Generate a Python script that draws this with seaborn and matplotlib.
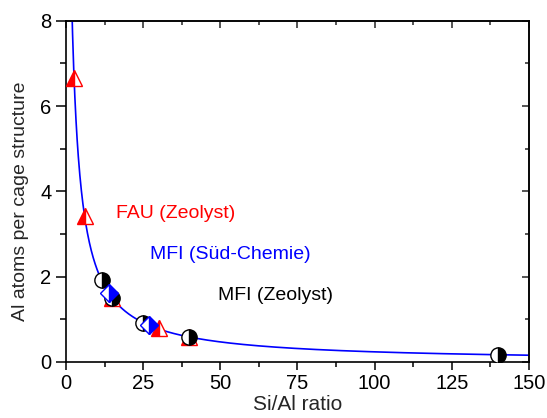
import numpy as np
import pandas as pd
import matplotlib
matplotlib.use("Agg")
import matplotlib.pyplot as plt
from matplotlib.ticker import MultipleLocator
import seaborn as sns

# Measured samples: Si/Al ratio and Al atoms per cage
fau_si_al = [2.6, 6.0, 15.0, 30.0, 40.0]
fau_al = [6.67, 3.43, 1.50, 0.79, 0.59]

mfi_sc_si_al = [14.0, 27.0]
mfi_sc_al = [1.62, 0.86]

mfi_zeo_si_al = [11.5, 15.0, 25.0, 40.0, 140.0]
mfi_zeo_al = [1.92, 1.50, 0.92, 0.59, 0.17]

# Reference curve: 24 T atoms per cage shared between Si and Al
T_ATOMS_PER_CAGE = 24

series_labels = ["FAU (Zeolyst)", "MFI (Süd-Chemie)", "MFI (Zeolyst)"]

sns.set_theme(style="ticks")
plt.rcParams["font.family"] = ["Liberation Sans", "DejaVu Sans"]

fig = plt.figure(figsize=(5.47, 4.18), dpi=100)
ax = fig.add_axes([0.1207, 0.134, 0.8463, 0.8162])

ratio = np.linspace(1.5, 150, 1200)
curve = pd.DataFrame({"ratio": ratio, "al": T_ATOMS_PER_CAGE / (1 + ratio)})
sns.lineplot(data=curve, x="ratio", y="al", color="#0000ff", lw=1.2, ax=ax, zorder=2)

ms = 11
sns.lineplot(x=fau_si_al, y=fau_al, ax=ax, linestyle="", marker="^", markersize=ms,
             fillstyle="left", markerfacecolor="#ff0000", markerfacecoloralt="white",
             markeredgecolor="#ff0000", markeredgewidth=1.0, zorder=3)
sns.lineplot(x=mfi_zeo_si_al, y=mfi_zeo_al, ax=ax, linestyle="", marker="o", markersize=ms,
             fillstyle="right", markerfacecolor="black", markerfacecoloralt="white",
             markeredgecolor="black", markeredgewidth=1.0, zorder=4)
sns.lineplot(x=mfi_sc_si_al, y=mfi_sc_al, ax=ax, linestyle="", marker="D", markersize=9.5,
             fillstyle="right", markerfacecolor="#0000ff", markerfacecoloralt="white",
             markeredgecolor="#0000ff", markeredgewidth=1.0, zorder=5)

ax.text(16.2, 3.48, series_labels[0], color="#ff0000", fontsize=14, va="center")
ax.text(27.2, 2.52, series_labels[1], color="#0000ff", fontsize=14, va="center")
ax.text(49.2, 1.55, series_labels[2], color="black", fontsize=14, va="center")

ax.set_xlim(0, 150)
ax.set_ylim(0, 8)
ax.xaxis.set_major_locator(MultipleLocator(25))
ax.xaxis.set_minor_locator(MultipleLocator(12.5))
ax.yaxis.set_major_locator(MultipleLocator(2))
ax.yaxis.set_minor_locator(MultipleLocator(1))
ax.set_xlabel("Si/Al ratio", fontsize=15)
ax.set_ylabel("Al atoms per cage structure", fontsize=14)
ax.xaxis.set_label_coords(0.5, -0.098)
ax.yaxis.set_label_coords(-0.079, 0.47)

for s in ax.spines.values():
    s.set_color("black")
    s.set_linewidth(1.2)
    s.set_visible(True)

ax.tick_params(which="both", direction="out", color="black", width=1.1,
               labelsize=14.5, labelcolor="black",
               top=False, right=False)
ax.tick_params(axis="x", which="major", length=6, pad=3)
ax.tick_params(axis="x", which="minor", length=3.5)
ax.tick_params(axis="y", which="major", length=7.5, pad=3)
ax.tick_params(axis="y", which="minor", length=4.5)

# inward ticks on the top and right edges
sec_x = ax.secondary_xaxis("top")
sec_x.xaxis.set_major_locator(MultipleLocator(25))
sec_x.xaxis.set_minor_locator(MultipleLocator(12.5))
sec_x.tick_params(which="both", direction="in", width=1.1, labeltop=False)
sec_x.tick_params(which="major", length=5)
sec_x.tick_params(which="minor", length=3)
sec_x.spines["top"].set_linewidth(1.2)
sec_y = ax.secondary_yaxis("right")
sec_y.yaxis.set_major_locator(MultipleLocator(2))
sec_y.yaxis.set_minor_locator(MultipleLocator(1))
sec_y.tick_params(which="both", direction="in", width=1.1, labelright=False)
sec_y.tick_params(which="major", length=5)
sec_y.tick_params(which="minor", length=3)
sec_y.spines["right"].set_linewidth(1.2)

ax.set_facecolor("white")
fig.patch.set_facecolor("white")
fig.savefig("out.png", dpi=100)
